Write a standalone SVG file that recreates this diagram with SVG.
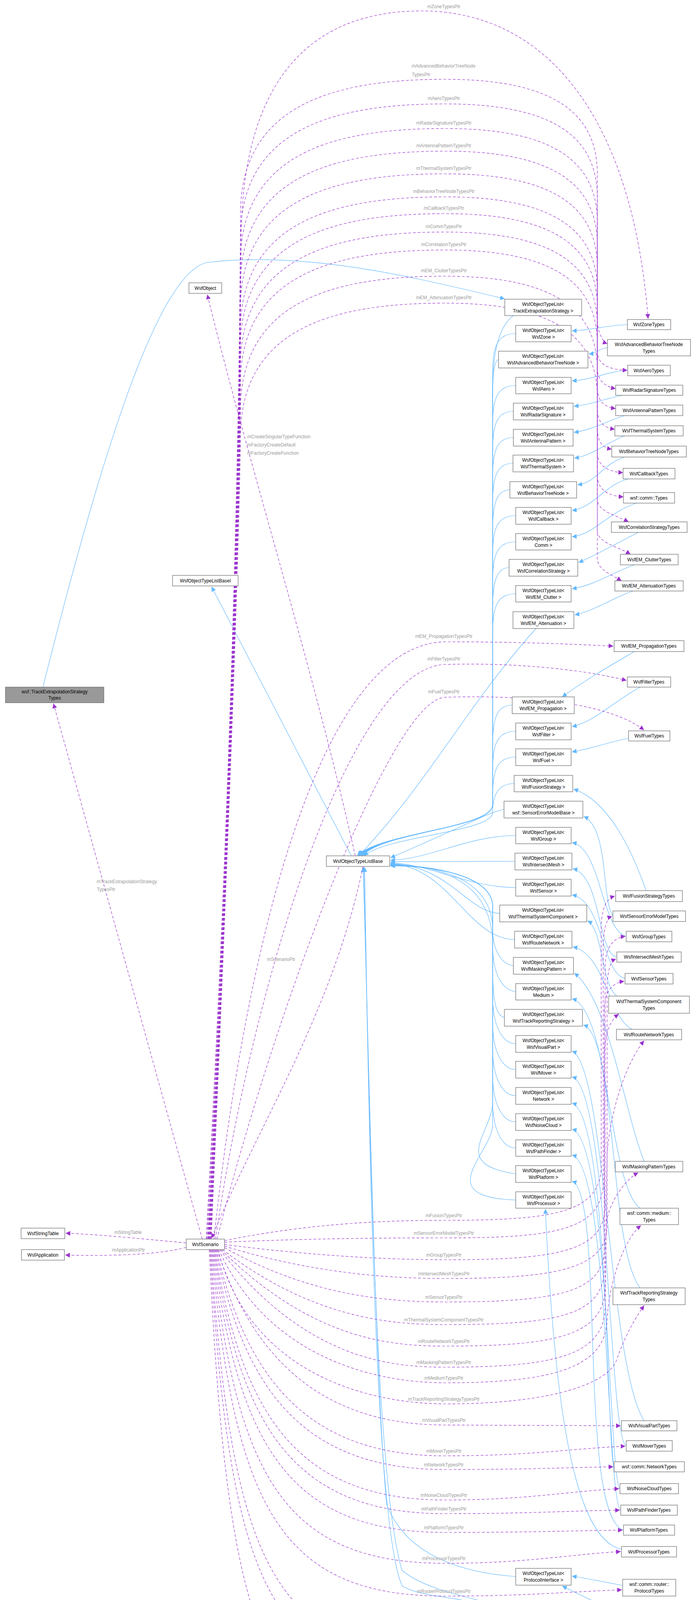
<svg xmlns="http://www.w3.org/2000/svg" width="1770" height="4479" viewBox="0 0 1770 4479">
<style>
.n rect{fill:#fff;stroke:#666;stroke-width:1.2}
.n text,.g text{font-family:"Liberation Sans",Arial,sans-serif;font-size:12px;fill:#000;text-anchor:middle}
.g rect{fill:#999;stroke:#666;stroke-width:1.2}
.b{fill:none;stroke:#63b8ff;stroke-width:1.2;marker-end:url(#ab)}
.p{fill:none;stroke:#9a32cd;stroke-width:1.2;stroke-dasharray:7,5;marker-end:url(#ap)}
.l{font-family:"Liberation Sans",Arial,sans-serif;font-size:12px;fill:#9a9a9a;text-anchor:middle}
</style>
<defs>
<marker id="ab" viewBox="0 0 10 10" refX="10" refY="5" markerWidth="12" markerHeight="12" markerUnits="userSpaceOnUse" orient="auto"><path d="M0,0 L10,5 L0,10 z" fill="#63b8ff"/></marker>
<marker id="ap" viewBox="0 0 10 10" refX="10" refY="5" markerWidth="12" markerHeight="12" markerUnits="userSpaceOnUse" orient="auto"><path d="M0,0 L10,5 L0,10 z" fill="#9a32cd"/></marker>
</defs>
<rect width="1770" height="4479" fill="#fff"/>
<g id="connectors">
<path class="b" d="M1607,831 C1550,833 1520,845 1465,847"/>
<path class="b" d="M1556,890 C1535,892 1525,905 1508,906"/>
<path class="b" d="M1608,948 C1550,952 1520,972 1465,975"/>
<path class="b" d="M1595,1012 C1550,1020 1520,1035 1470,1040"/>
<path class="b" d="M1600,1064 C1560,1075 1520,1100 1470,1107"/>
<path class="b" d="M1600,1116 C1560,1130 1520,1165 1471,1173"/>
<path class="b" d="M1600,1170 C1540,1190 1530,1235 1479,1241"/>
<path class="b" d="M1610,1226 C1550,1240 1520,1300 1465,1307"/>
<path class="b" d="M1630,1288 C1560,1310 1520,1370 1465,1374"/>
<path class="b" d="M1635,1363 C1580,1390 1530,1420 1482,1440"/>
<path class="b" d="M1625,1446 C1570,1465 1520,1500 1465,1507"/>
<path class="b" d="M1622,1513 C1570,1530 1520,1565 1472,1574"/>
<path class="b" d="M1625,1668 C1570,1700 1500,1740 1440,1784"/>
<path class="b" d="M1640,1759 C1580,1790 1520,1850 1465,1860"/>
<path class="b" d="M1610,1890 C1560,1900 1520,1915 1465,1925"/>
<path class="b" d="M1655,2280 C1620,2180 1560,2050 1469,2020"/>
<path class="b" d="M1570,2345 C1540,2300 1560,2120 1495,2090"/>
<path class="b" d="M1604,2397 C1540,2380 1540,2170 1465,2157"/>
<path class="b" d="M1580,2450 C1530,2440 1540,2240 1467,2224"/>
<path class="b" d="M1601,2505 C1540,2490 1545,2305 1465,2291"/>
<path class="b" d="M1580,2550 C1540,2520 1545,2380 1505,2357"/>
<path class="b" d="M1620,2635 C1560,2610 1550,2440 1467,2424"/>
<path class="b" d="M1650,2973 C1600,2850 1560,2560 1471,2491"/>
<path class="b" d="M1640,3093 C1560,3040 1560,2580 1465,2557"/>
<path class="b" d="M1640,3297 C1560,3200 1580,2650 1494,2624"/>
<path class="b" d="M1650,3637 C1560,3500 1550,2720 1465,2691"/>
<path class="b" d="M1604,3701 C1560,3690 1560,2780 1465,2757"/>
<path class="b" d="M1573,3755 C1555,3740 1560,2850 1465,2824"/>
<path class="b" d="M1588,3811 C1560,3800 1560,2910 1465,2891"/>
<path class="b" d="M1590,3866 C1555,3850 1560,2980 1465,2957"/>
<path class="b" d="M1597,3917 C1480,3880 1550,3050 1465,3024"/>
<path class="b" d="M1592,3966 C1470,3940 1420,3600 1397,3095"/>
<path class="b" d="M1595,4059 C1560,4052 1500,4040 1465,4035"/>
<path class="b" d="M1640,4148 C1580,4130 1480,4080 1440,4060"/>
<path class="b" d="M1640,4269 C1580,4230 1500,4180 1465,4172"/>
<path class="b" d="M1620,4351 C1560,4320 1480,4270 1440,4243"/>
<path class="b" d="M1320,804 C1250,850 1262,1000 1262,1100 L1262,2060 C1262,2120 980,2130 930,2190"/>
<path class="b" d="M1321,854 C1275,854 1262,884 1262,954 L1262,2060 C1262,2120 980,2130 928,2190"/>
<path class="b" d="M1277,920 C1266,925 1262,950 1262,1020 L1262,2060 C1262,2120 980,2130 926,2190"/>
<path class="b" d="M1321,987 C1275,987 1262,1017 1262,1087 L1262,2060 C1262,2120 980,2130 924,2190"/>
<path class="b" d="M1315,1053 C1275,1053 1262,1083 1262,1153 L1262,2060 C1262,2120 980,2130 922,2190"/>
<path class="b" d="M1315,1120 C1275,1120 1262,1150 1262,1220 L1262,2060 C1262,2120 980,2130 921,2190"/>
<path class="b" d="M1314,1186 C1275,1186 1262,1216 1262,1286 L1262,2060 C1262,2120 980,2130 920,2190"/>
<path class="b" d="M1306,1254 C1275,1254 1262,1284 1262,1354 L1262,2060 C1262,2120 980,2130 919,2190"/>
<path class="b" d="M1321,1320 C1275,1320 1262,1350 1262,1420 L1262,2060 C1262,2120 980,2130 918,2190"/>
<path class="b" d="M1321,1387 C1275,1387 1262,1417 1262,1487 L1262,2060 C1262,2120 980,2130 917,2190"/>
<path class="b" d="M1304,1453 C1275,1453 1262,1483 1262,1553 L1262,2060 C1262,2120 980,2130 916,2190"/>
<path class="b" d="M1321,1520 C1275,1520 1262,1550 1262,1620 L1262,2060 C1262,2120 980,2130 915,2190"/>
<path class="b" d="M1373,1609 C1200,1800 1100,2000 920,2190"/>
<path class="b" d="M1312,1805 C1275,1805 1262,1835 1262,1905 L1262,2060 C1262,2120 980,2130 924,2190"/>
<path class="b" d="M1321,1872 C1275,1872 1262,1902 1262,1972 L1262,2060 C1262,2120 980,2130 926,2190"/>
<path class="b" d="M1321,1938 C1275,1938 1262,1968 1262,2038 L1262,2060 C1262,2120 980,2130 928,2190"/>
<path class="b" d="M1317,2006 C1275,2006 1262,2036 1262,2080 C1262,2130 990,2140 932,2191"/>
<path class="b" d="M1291,2072 C1250,2080 1200,2110 1000,2196"/>
<path class="b" d="M1321,2139 C1200,2139 1100,2200 1000,2202"/>
<path class="b" d="M1319,2205 C1200,2205 1100,2206 1000,2206"/>
<path class="b" d="M1321,2272 C1200,2272 1100,2212 1000,2209"/>
<path class="b" d="M1280,2338 C1200,2338 1150,2215 1000,2211"/>
<path class="b" d="M1318,2405 C1200,2405 1150,2216 1000,2212"/>
<path class="b" d="M1315,2472 C1290,2470 1262,2440 1262,2380 C1262,2240 1100,2215 1000,2213"/>
<path class="b" d="M1321,2539 C1290,2535 1262,2500 1262,2420 C1262,2240 1100,2215 1000,2213"/>
<path class="b" d="M1292,2605 C1270,2600 1262,2560 1262,2480 L1262,2320 C1262,2240 1100,2215 1000,2214"/>
<path class="b" d="M1321,2672 C1290,2672 1262,2632 1262,2552 L1262,2320 C1262,2240 1100,2215 1000,2214"/>
<path class="b" d="M1321,2738 C1290,2738 1262,2698 1262,2618 L1262,2320 C1262,2240 1100,2215 1000,2215"/>
<path class="b" d="M1321,2805 C1290,2805 1262,2765 1262,2685 L1262,2320 C1262,2240 1100,2215 1000,2215"/>
<path class="b" d="M1321,2872 C1290,2872 1262,2832 1262,2752 L1262,2320 C1262,2240 1100,2215 1000,2216"/>
<path class="b" d="M1321,2939 C1290,2939 1262,2899 1262,2819 L1262,2320 C1262,2240 1100,2215 1000,2216"/>
<path class="b" d="M1321,3005 C1150,2980 1262,2900 1262,2820 L1262,2320 C1262,2240 1100,2215 1000,2216"/>
<path class="b" d="M1321,3072 C1100,3065 1262,2950 1262,2880 L1262,2320 C1262,2240 1100,2215 1000,2217"/>
<path class="b" d="M1321,4036 C1100,4020 1020,3930 990,3850 C960,3500 945,2700 930,2220"/>
<path class="b" d="M1356,4133 C1250,4095 1100,4080 1030,4020 C960,3800 945,2800 932,2220"/>
<path class="b" d="M1321,4220 C1230,4205 1230,4160 1230,4130 C1230,4080 1100,4100 1030,4060 C960,3900 945,2900 934,2220"/>
<path class="b" d="M900,2191 L542,1502"/>
<path class="b" d="M110,1759 C250,1200 400,700 530,672 C800,640 1100,720 1293,765"/>
<path class="p" d="M910,2191 C800,1700 640,1200 531,754"/>
<path class="p" d="M930,2218 C850,2600 650,2900 542,3170"/>
<path class="p" d="M518,3172 L137,1801"/>
<path class="p" d="M477,3182 C350,3170 250,3160 168,3157"/>
<path class="p" d="M477,3193 C400,3215 250,3215 167,3213"/>
<path class="p" d="M528,3172 C560,2600 612,1500 618,600 C622,250 760,28 1080,28 C1400,28 1620,300 1660,816"/>
<path class="p" d="M530,3172 C560,2600 612,1500 616,541 C620,271 850,203 1140,203 C1420,203 1528,291 1530,441 L1530,820 C1532,855 1545,876 1556,880"/>
<path class="p" d="M532,3172 C562,2600 612,1500 616,602 C620,332 850,266 1140,266 C1420,266 1528,352 1530,502 L1530,900 C1532,935 1560,946 1607,948"/>
<path class="p" d="M533,3172 C562,2600 612,1500 616,665 C620,395 850,329 1140,329 C1420,329 1528,415 1530,565 L1530,945 C1532,975 1550,990 1577,995"/>
<path class="p" d="M534,3172 C563,2600 612,1500 616,723 C620,453 850,387 1140,387 C1420,387 1528,473 1530,623 L1530,995 C1532,1030 1550,1042 1577,1046"/>
<path class="p" d="M535,3172 C563,2600 612,1500 616,781 C620,511 850,445 1140,445 C1420,445 1528,531 1530,681 L1530,1050 C1532,1085 1550,1095 1575,1099"/>
<path class="p" d="M536,3172 C564,2600 612,1500 616,840 C620,570 850,504 1140,504 C1420,504 1528,590 1530,740 L1530,1100 C1532,1135 1545,1146 1567,1150"/>
<path class="p" d="M537,3172 C564,2600 612,1500 616,883 C620,613 850,547 1140,547 C1420,547 1528,633 1530,783 L1530,1160 C1532,1195 1560,1208 1596,1210"/>
<path class="p" d="M538,3172 C565,2600 612,1500 616,930 C620,660 850,594 1140,594 C1420,594 1528,680 1530,830 L1530,1220 C1532,1255 1560,1270 1597,1272"/>
<path class="p" d="M539,3172 C565,2600 612,1500 616,976 C620,706 850,640 1140,640 C1420,640 1528,726 1530,876 L1530,1280 C1532,1310 1580,1320 1610,1336"/>
<path class="p" d="M540,3172 C566,2600 612,1500 616,1043 C620,773 850,707 1140,707 C1420,707 1528,793 1530,943 L1530,1360 C1532,1390 1585,1400 1615,1419"/>
<path class="p" d="M541,3172 C566,2600 612,1500 616,1112 C620,842 850,776 1140,776 C1420,776 1528,862 1530,1012 L1530,1430 C1532,1460 1565,1470 1592,1487"/>
<path class="p" d="M548,3172 C620,2500 800,1650 1140,1643 C1350,1643 1480,1650 1571,1654"/>
<path class="p" d="M552,3172 C650,2500 900,1710 1140,1701 C1350,1695 1520,1720 1605,1742"/>
<path class="p" d="M556,3172 C700,2600 1000,1790 1140,1785 C1350,1778 1560,1800 1650,1869"/>
<path class="p" d="M575,3176 C800,3130 1000,3124 1140,3124 C1420,3124 1535,3104 1540,2990 L1540,2370 C1542,2320 1555,2300 1575,2294"/>
<path class="p" d="M575,3180 C800,3170 1000,3169 1140,3169 C1420,3169 1540,3150 1545,3030 L1545,2420 C1547,2370 1555,2350 1568,2346"/>
<path class="p" d="M575,3186 C800,3215 1000,3225 1140,3225 C1420,3225 1548,3205 1550,3090 L1550,2470 C1552,2420 1575,2400 1602,2397"/>
<path class="p" d="M575,3190 C800,3260 1000,3273 1140,3273 C1420,3273 1552,3250 1555,3140 L1555,2530 C1556,2480 1565,2460 1578,2455"/>
<path class="p" d="M575,3194 C800,3320 1000,3333 1140,3333 C1420,3333 1545,3310 1548,3200 L1548,2580 C1550,2530 1575,2515 1599,2512"/>
<path class="p" d="M570,3199 C800,3375 1000,3391 1140,3391 C1420,3391 1545,3370 1548,3250 L1548,2700 C1550,2640 1565,2610 1585,2596"/>
<path class="p" d="M566,3199 C800,3430 1000,3446 1140,3446 C1420,3446 1545,3420 1550,3300 L1555,2950 C1570,2800 1620,2700 1650,2664"/>
<path class="p" d="M563,3199 C780,3480 1000,3500 1140,3500 C1420,3500 1545,3470 1550,3350 L1553,3130 C1560,3080 1600,3020 1635,3002"/>
<path class="p" d="M560,3199 C700,3500 1000,3540 1140,3540 C1420,3540 1550,3500 1555,3380 C1560,3280 1600,3170 1642,3137"/>
<path class="p" d="M558,3199 C650,3550 1000,3594 1140,3594 C1420,3594 1560,3540 1580,3480 C1600,3420 1630,3370 1650,3342"/>
<path class="p" d="M556,3199 C640,3450 800,3648 1140,3648 L1590,3650"/>
<path class="p" d="M554,3199 C630,3520 780,3727 1140,3727 C1350,3727 1450,3710 1602,3702"/>
<path class="p" d="M552,3199 C625,3550 770,3762 1140,3762 C1350,3762 1450,3757 1571,3755"/>
<path class="p" d="M550,3199 C620,3620 760,3840 1140,3840 C1350,3840 1450,3818 1586,3811"/>
<path class="p" d="M548,3199 C615,3650 750,3875 1140,3875 C1350,3875 1450,3868 1588,3866"/>
<path class="p" d="M546,3199 C610,3700 740,3923 1140,3923 C1350,3923 1450,3919 1595,3917"/>
<path class="p" d="M544,3199 C605,3780 730,4002 1140,4002 C1350,4002 1450,3980 1590,3972"/>
<path class="p" d="M542,3199 C600,3860 720,4086 1140,4086 C1350,4086 1450,4075 1593,4070"/>
<path class="p" d="M540,3199 C595,4000 700,4235 1140,4235 C1400,4235 1560,4220 1639,4177"/>
<path class="p" d="M538,3199 C590,4060 690,4295 1140,4295 C1350,4295 1450,4285 1602,4283"/>
<path class="p" d="M536,3199 C585,4220 680,4466 1140,4466 C1400,4466 1520,4420 1598,4394"/>
</g>
<g id="labels">
<text class="l" x="1137" y="21">mZoneTypesPtr</text>
<text class="l" x="1136" y="173">mAdvancedBehaviorTreeNode</text>
<text class="l" x="1055" y="195" style="text-anchor:start">TypesPtr</text>
<text class="l" x="1137" y="256">mAeroTypesPtr</text>
<text class="l" x="1137" y="319">mRadarSignatureTypesPtr</text>
<text class="l" x="1137" y="377">mAntennaPatternTypesPtr</text>
<text class="l" x="1137" y="435">mThermalSystemTypesPtr</text>
<text class="l" x="1137" y="494">mBehaviorTreeNodeTypesPtr</text>
<text class="l" x="1137" y="537">mCallbackTypesPtr</text>
<text class="l" x="1137" y="584">mCommTypesPtr</text>
<text class="l" x="1137" y="630">mCorrelationTypesPtr</text>
<text class="l" x="1137" y="697">mEM_ClutterTypesPtr</text>
<text class="l" x="1137" y="766">mEM_AttenuationTypesPtr</text>
<text class="l" x="633" y="1122" style="text-anchor:start">mCreateSingularTypeFunction</text>
<text class="l" x="633" y="1143" style="text-anchor:start">mFactoryCreateDefault</text>
<text class="l" x="633" y="1164" style="text-anchor:start">mFactoryCreateFunction</text>
<text class="l" x="1137" y="1633">mEM_PropagationTypesPtr</text>
<text class="l" x="1137" y="1691">mFilterTypesPtr</text>
<text class="l" x="1137" y="1775">mFuelTypesPtr</text>
<text class="l" x="325" y="2261">mTrackExtrapolationStrategy</text>
<text class="l" x="248" y="2281" style="text-anchor:start">TypesPtr</text>
<text class="l" x="720" y="2460">mScenarioPtr</text>
<text class="l" x="1137" y="3116">mFusionTypesPtr</text>
<text class="l" x="1137" y="3161">mSensorErrorModelTypesPtr</text>
<text class="l" x="1137" y="3217">mGroupTypesPtr</text>
<text class="l" x="1137" y="3265">mIntersectMeshTypesPtr</text>
<text class="l" x="1137" y="3325">mSensorTypesPtr</text>
<text class="l" x="1137" y="3383">mThermalSystemComponentTypesPtr</text>
<text class="l" x="1137" y="3438">mRouteNetworkTypesPtr</text>
<text class="l" x="1137" y="3492">mMaskingPatternTypesPtr</text>
<text class="l" x="1137" y="3532">mMediumTypesPtr</text>
<text class="l" x="1137" y="3586">mTrackReportingStrategyTypesPtr</text>
<text class="l" x="1137" y="3640">mVisualPartTypesPtr</text>
<text class="l" x="1137" y="3719">mMoverTypesPtr</text>
<text class="l" x="1137" y="3754">mNetworkTypesPtr</text>
<text class="l" x="1137" y="3832">mNoiseCloudTypesPtr</text>
<text class="l" x="1137" y="3867">mPathFinderTypesPtr</text>
<text class="l" x="1137" y="3915">mPlatformTypesPtr</text>
<text class="l" x="1137" y="3994">mProcessorTypesPtr</text>
<text class="l" x="1137" y="4078">mRouterProtocolTypesPtr</text>
<text class="l" x="1137" y="4227">mCommProtocolTypesPtr</text>
<text class="l" x="1137" y="4287">mRouteTypesPtr</text>
<text class="l" x="1137" y="4458">mRouterTypesPtr</text>
<text class="l" x="328" y="3159">mStringTable</text>
<text class="l" x="329" y="3204">mApplicationPtr</text>
</g>
<g id="WsfScenario" class="n"><rect x="477" y="3172" width="98" height="27"/><text x="526" y="3190">WsfScenario</text></g>
<g id="WsfStringTable" class="n"><rect x="54" y="3144" width="112" height="27"/><text x="110" y="3162">WsfStringTable</text></g>
<g id="WsfApplication" class="n"><rect x="55" y="3199" width="110" height="27"/><text x="110" y="3217">WsfApplication</text></g>
<g id="TrackExtrapolationStrategyTypes" class="g"><rect x="14" y="1759" width="252" height="40"/><text x="140" y="1775">wsf::TrackExtrapolationStrategy</text><text x="140" y="1791">Types</text></g>
<g id="WsfObject" class="n"><rect x="484" y="724" width="84" height="27"/><text x="526" y="742">WsfObject</text></g>
<g id="WsfObjectTypeListBaseI" class="n"><rect x="442" y="1473" width="168" height="27"/><text x="526" y="1491">WsfObjectTypeListBaseI</text></g>
<g id="WsfObjectTypeListBase" class="n"><rect x="836" y="2191" width="162" height="27"/><text x="917" y="2209">WsfObjectTypeListBase</text></g>
<g id="L0" class="n"><rect x="1293" y="766" width="197" height="42"/><text x="1391" y="783">WsfObjectTypeList&lt;</text><text x="1391" y="800">TrackExtrapolationStrategy &gt;</text></g>
<g id="L1" class="n"><rect x="1321" y="833" width="142" height="42"/><text x="1392" y="850">WsfObjectTypeList&lt;</text><text x="1392" y="867">WsfZone &gt;</text></g>
<g id="L2" class="n"><rect x="1277" y="899" width="229" height="43"/><text x="1391" y="916">WsfObjectTypeList&lt;</text><text x="1391" y="933">WsfAdvancedBehaviorTreeNode &gt;</text></g>
<g id="L3" class="n"><rect x="1321" y="966" width="142" height="42"/><text x="1392" y="983">WsfObjectTypeList&lt;</text><text x="1392" y="1000">WsfAero &gt;</text></g>
<g id="L4" class="n"><rect x="1315" y="1032" width="153" height="43"/><text x="1391" y="1049">WsfObjectTypeList&lt;</text><text x="1391" y="1066">WsfRadarSignature &gt;</text></g>
<g id="L5" class="n"><rect x="1315" y="1099" width="153" height="43"/><text x="1391" y="1116">WsfObjectTypeList&lt;</text><text x="1391" y="1133">WsfAntennaPattern &gt;</text></g>
<g id="L6" class="n"><rect x="1314" y="1165" width="155" height="43"/><text x="1391" y="1182">WsfObjectTypeList&lt;</text><text x="1391" y="1199">WsfThermalSystem &gt;</text></g>
<g id="L7" class="n"><rect x="1306" y="1233" width="171" height="42"/><text x="1391" y="1250">WsfObjectTypeList&lt;</text><text x="1391" y="1267">WsfBehaviorTreeNode &gt;</text></g>
<g id="L8" class="n"><rect x="1321" y="1299" width="142" height="43"/><text x="1392" y="1316">WsfObjectTypeList&lt;</text><text x="1392" y="1333">WsfCallback &gt;</text></g>
<g id="L9" class="n"><rect x="1321" y="1366" width="142" height="42"/><text x="1392" y="1383">WsfObjectTypeList&lt;</text><text x="1392" y="1400">Comm &gt;</text></g>
<g id="L10" class="n"><rect x="1304" y="1432" width="176" height="43"/><text x="1392" y="1449">WsfObjectTypeList&lt;</text><text x="1392" y="1466">WsfCorrelationStrategy &gt;</text></g>
<g id="L11" class="n"><rect x="1321" y="1499" width="142" height="42"/><text x="1392" y="1516">WsfObjectTypeList&lt;</text><text x="1392" y="1533">WsfEM_Clutter &gt;</text></g>
<g id="L12" class="n"><rect x="1314" y="1566" width="156" height="43"/><text x="1392" y="1583">WsfObjectTypeList&lt;</text><text x="1392" y="1600">WsfEM_Attenuation &gt;</text></g>
<g id="L13" class="n"><rect x="1312" y="1784" width="159" height="43"/><text x="1391" y="1801">WsfObjectTypeList&lt;</text><text x="1391" y="1818">WsfEM_Propagation &gt;</text></g>
<g id="L14" class="n"><rect x="1321" y="1851" width="142" height="43"/><text x="1392" y="1868">WsfObjectTypeList&lt;</text><text x="1392" y="1885">WsfFilter &gt;</text></g>
<g id="L15" class="n"><rect x="1321" y="1917" width="142" height="43"/><text x="1392" y="1934">WsfObjectTypeList&lt;</text><text x="1392" y="1951">WsfFuel &gt;</text></g>
<g id="L16" class="n"><rect x="1317" y="1985" width="150" height="42"/><text x="1392" y="2002">WsfObjectTypeList&lt;</text><text x="1392" y="2019">WsfFusionStrategy &gt;</text></g>
<g id="L17" class="n"><rect x="1291" y="2051" width="202" height="43"/><text x="1392" y="2068">WsfObjectTypeList&lt;</text><text x="1392" y="2085">wsf::SensorErrorModelBase &gt;</text></g>
<g id="L18" class="n"><rect x="1321" y="2118" width="142" height="42"/><text x="1392" y="2135">WsfObjectTypeList&lt;</text><text x="1392" y="2152">WsfGroup &gt;</text></g>
<g id="L19" class="n"><rect x="1319" y="2184" width="146" height="43"/><text x="1392" y="2201">WsfObjectTypeList&lt;</text><text x="1392" y="2218">WsfIntersectMesh &gt;</text></g>
<g id="L20" class="n"><rect x="1321" y="2251" width="142" height="43"/><text x="1392" y="2268">WsfObjectTypeList&lt;</text><text x="1392" y="2285">WsfSensor &gt;</text></g>
<g id="L21" class="n"><rect x="1280" y="2317" width="223" height="43"/><text x="1391" y="2334">WsfObjectTypeList&lt;</text><text x="1391" y="2351">WsfThermalSystemComponent &gt;</text></g>
<g id="L22" class="n"><rect x="1318" y="2384" width="147" height="43"/><text x="1391" y="2401">WsfObjectTypeList&lt;</text><text x="1391" y="2418">WsfRouteNetwork &gt;</text></g>
<g id="L23" class="n"><rect x="1315" y="2451" width="154" height="43"/><text x="1392" y="2468">WsfObjectTypeList&lt;</text><text x="1392" y="2485">WsfMaskingPattern &gt;</text></g>
<g id="L24" class="n"><rect x="1321" y="2518" width="142" height="42"/><text x="1392" y="2535">WsfObjectTypeList&lt;</text><text x="1392" y="2552">Medium &gt;</text></g>
<g id="L25" class="n"><rect x="1292" y="2584" width="200" height="43"/><text x="1392" y="2601">WsfObjectTypeList&lt;</text><text x="1392" y="2618">WsfTrackReportingStrategy &gt;</text></g>
<g id="L26" class="n"><rect x="1321" y="2651" width="142" height="43"/><text x="1392" y="2668">WsfObjectTypeList&lt;</text><text x="1392" y="2685">WsfVisualPart &gt;</text></g>
<g id="L27" class="n"><rect x="1321" y="2717" width="142" height="43"/><text x="1392" y="2734">WsfObjectTypeList&lt;</text><text x="1392" y="2751">WsfMover &gt;</text></g>
<g id="L28" class="n"><rect x="1321" y="2784" width="142" height="43"/><text x="1392" y="2801">WsfObjectTypeList&lt;</text><text x="1392" y="2818">Network &gt;</text></g>
<g id="L29" class="n"><rect x="1321" y="2851" width="142" height="43"/><text x="1392" y="2868">WsfObjectTypeList&lt;</text><text x="1392" y="2885">WsfNoiseCloud &gt;</text></g>
<g id="L30" class="n"><rect x="1321" y="2918" width="142" height="42"/><text x="1392" y="2935">WsfObjectTypeList&lt;</text><text x="1392" y="2952">WsfPathFinder &gt;</text></g>
<g id="L31" class="n"><rect x="1321" y="2984" width="142" height="43"/><text x="1392" y="3001">WsfObjectTypeList&lt;</text><text x="1392" y="3018">WsfPlatform &gt;</text></g>
<g id="L32" class="n"><rect x="1321" y="3051" width="142" height="42"/><text x="1392" y="3068">WsfObjectTypeList&lt;</text><text x="1392" y="3085">WsfProcessor &gt;</text></g>
<g id="L33" class="n"><rect x="1321" y="4015" width="142" height="43"/><text x="1392" y="4032">WsfObjectTypeList&lt;</text><text x="1392" y="4049">ProtocolInterface &gt;</text></g>
<g id="L34" class="n"><rect x="1321" y="4133" width="142" height="42"/><text x="1392" y="4150">WsfObjectTypeList&lt;</text><text x="1392" y="4167">WsfRoute &gt;</text></g>
<g id="L35" class="n"><rect x="1321" y="4200" width="142" height="41"/><text x="1392" y="4216">WsfObjectTypeList&lt;</text><text x="1392" y="4233">Router &gt;</text></g>
<g id="T1" class="n"><rect x="1607" y="818" width="111" height="26"/><text x="1662" y="835">WsfZoneTypes</text></g>
<g id="T2" class="n"><rect x="1556" y="869" width="213" height="42"/><text x="1662" y="886">WsfAdvancedBehaviorTreeNode</text><text x="1662" y="903">Types</text></g>
<g id="T3" class="n"><rect x="1608" y="935" width="109" height="27"/><text x="1662" y="953">WsfAeroTypes</text></g>
<g id="T4" class="n"><rect x="1577" y="986" width="172" height="26"/><text x="1663" y="1003">WsfRadarSignatureTypes</text></g>
<g id="T5" class="n"><rect x="1577" y="1037" width="172" height="27"/><text x="1663" y="1055">WsfAntennaPatternTypes</text></g>
<g id="T6" class="n"><rect x="1575" y="1090" width="175" height="26"/><text x="1662" y="1107">WsfThermalSystemTypes</text></g>
<g id="T7" class="n"><rect x="1567" y="1142" width="191" height="28"/><text x="1662" y="1160">WsfBehaviorTreeNodeTypes</text></g>
<g id="T8" class="n"><rect x="1596" y="1199" width="133" height="27"/><text x="1662" y="1217">WsfCallbackTypes</text></g>
<g id="T9" class="n"><rect x="1597" y="1261" width="131" height="27"/><text x="1662" y="1279">wsf::comm::Types</text></g>
<g id="T10" class="n"><rect x="1566" y="1336" width="194" height="27"/><text x="1663" y="1354">WsfCorrelationStrategyTypes</text></g>
<g id="T11" class="n"><rect x="1589" y="1419" width="148" height="27"/><text x="1663" y="1437">WsfEM_ClutterTypes</text></g>
<g id="T12" class="n"><rect x="1575" y="1487" width="175" height="26"/><text x="1662" y="1504">WsfEM_AttenuationTypes</text></g>
<g id="T13" class="n"><rect x="1573" y="1640" width="179" height="28"/><text x="1662" y="1658">WsfEM_PropagationTypes</text></g>
<g id="T14" class="n"><rect x="1607" y="1733" width="111" height="26"/><text x="1662" y="1750">WsfFilterTypes</text></g>
<g id="T15" class="n"><rect x="1610" y="1871" width="106" height="26"/><text x="1663" y="1888">WsfFuelTypes</text></g>
<g id="T16" class="n"><rect x="1577" y="2280" width="171" height="28"/><text x="1662" y="2298">WsfFusionStrategyTypes</text></g>
<g id="T17" class="n"><rect x="1570" y="2332" width="186" height="27"/><text x="1663" y="2350">WsfSensorErrorModelTypes</text></g>
<g id="T18" class="n"><rect x="1604" y="2384" width="117" height="27"/><text x="1662" y="2402">WsfGroupTypes</text></g>
<g id="T19" class="n"><rect x="1580" y="2437" width="165" height="26"/><text x="1662" y="2454">WsfIntersectMeshTypes</text></g>
<g id="T20" class="n"><rect x="1601" y="2492" width="123" height="27"/><text x="1662" y="2510">WsfSensorTypes</text></g>
<g id="T21" class="n"><rect x="1559" y="2550" width="207" height="44"/><text x="1662" y="2568">WsfThermalSystemComponent</text><text x="1662" y="2585">Types</text></g>
<g id="T22" class="n"><rect x="1579" y="2635" width="167" height="27"/><text x="1662" y="2653">WsfRouteNetworkTypes</text></g>
<g id="T23" class="n"><rect x="1576" y="2973" width="173" height="27"/><text x="1662" y="2991">WsfMaskingPatternTypes</text></g>
<g id="T24" class="n"><rect x="1588" y="3093" width="150" height="42"/><text x="1663" y="3110">wsf::comm::medium::</text><text x="1663" y="3127">Types</text></g>
<g id="T25" class="n"><rect x="1570" y="3297" width="185" height="43"/><text x="1662" y="3314">WsfTrackReportingStrategy</text><text x="1662" y="3331">Types</text></g>
<g id="T26" class="n"><rect x="1592" y="3637" width="142" height="26"/><text x="1663" y="3654">WsfVisualPartTypes</text></g>
<g id="T27" class="n"><rect x="1604" y="3688" width="118" height="27"/><text x="1663" y="3706">WsfMoverTypes</text></g>
<g id="T28" class="n"><rect x="1573" y="3742" width="180" height="26"/><text x="1663" y="3759">wsf::comm::NetworkTypes</text></g>
<g id="T29" class="n"><rect x="1588" y="3798" width="150" height="26"/><text x="1663" y="3815">WsfNoiseCloudTypes</text></g>
<g id="T30" class="n"><rect x="1590" y="3853" width="145" height="26"/><text x="1662" y="3870">WsfPathFinderTypes</text></g>
<g id="T31" class="n"><rect x="1597" y="3904" width="131" height="26"/><text x="1662" y="3921">WsfPlatformTypes</text></g>
<g id="T32" class="n"><rect x="1592" y="3959" width="141" height="27"/><text x="1662" y="3977">WsfProcessorTypes</text></g>
<g id="T33" class="n"><rect x="1595" y="4043" width="136" height="43"/><text x="1663" y="4060">wsf::comm::router::</text><text x="1663" y="4077">ProtocolTypes</text></g>
<g id="T34" class="n"><rect x="1573" y="4148" width="179" height="26"/><text x="1662" y="4165">wsf::comm::ProtocolTypes</text></g>
<g id="T35" class="n"><rect x="1604" y="4269" width="117" height="27"/><text x="1662" y="4287">WsfRouteTypes</text></g>
<g id="T36" class="n"><rect x="1595" y="4351" width="136" height="42"/><text x="1663" y="4368">wsf::comm::router::</text><text x="1663" y="4385">Types</text></g>
</svg>
